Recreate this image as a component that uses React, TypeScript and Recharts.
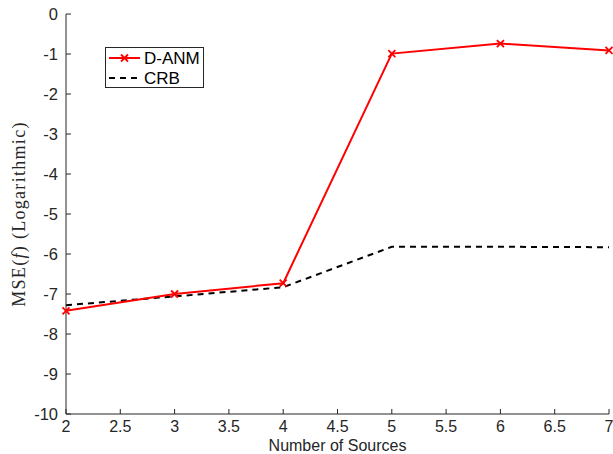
import { LineChart, Line, XAxis, YAxis } from 'recharts'

const sources = [2, 3, 4, 5, 6, 7]
const danm = [-7.42, -7.0, -6.73, -0.99, -0.74, -0.91]
const crb = [-7.28, -7.06, -6.83, -5.82, -5.82, -5.83]
const xTicks = [2, 2.5, 3, 3.5, 4, 4.5, 5, 5.5, 6, 6.5, 7]
const yTicks = [0, -1, -2, -3, -4, -5, -6, -7, -8, -9, -10]

const data = sources.map((s, i) => ({ sources: s, danm: danm[i], crb: crb[i] }))

const axisColor = '#262626'
const font = 'Liberation Sans, Arial, sans-serif'

const Cross = (props: any) => {
  const { cx, cy } = props
  if (cx == null || cy == null) return null
  const r = 3.5
  return (
    <g stroke="#ff0000" strokeWidth={1.8}>
      <line x1={cx - r} y1={cy - r} x2={cx + r} y2={cy + r} />
      <line x1={cx - r} y1={cy + r} x2={cx + r} y2={cy - r} />
    </g>
  )
}

const LegendBox = () => (
  <svg width={100} height={42} style={{ display: 'block' }}>
    <rect x={0.5} y={0.5} width={98} height={40} fill="#fff" stroke={axisColor} />
    <line x1={4} y1={11} x2={35} y2={11} stroke="#ff0000" strokeWidth={2} />
    <Cross cx={19.5} cy={11} />
    <text x={39} y={17} fontSize={17} fill="#000" fontFamily={font}>D-ANM</text>
    <line x1={4} y1={31} x2={35} y2={31} stroke="#000" strokeWidth={2} strokeDasharray="6 5" />
    <text x={39} y={37} fontSize={17} fill="#000" fontFamily={font}>CRB</text>
  </svg>
)

export default function App() {
  return (
    <div style={{ position: 'absolute', left: 0, top: 0, width: 613, height: 454, background: '#fff' }}>
      <LineChart
        width={613}
        height={454}
        data={data}
        margin={{ top: 14, right: 4, bottom: 0, left: 0 }}
      >
        <XAxis
          dataKey="sources"
          type="number"
          domain={[2, 7]}
          ticks={xTicks}
          height={40}
          stroke={axisColor}
          tickSize={-5}
          tickMargin={12}
          tick={{ fill: axisColor, fontSize: 16, fontFamily: font }}
          label={(p: any) => {
            const vb = p.viewBox
            return (
              <text
                x={vb.x + vb.width / 2}
                y={451}
                textAnchor="middle"
                fontFamily={font}
                fontSize={16}
                fill={axisColor}
              >
                Number of Sources
              </text>
            )
          }}
        />
        <YAxis
          type="number"
          domain={[-10, 0]}
          ticks={yTicks}
          width={66}
          stroke={axisColor}
          tickSize={-5}
          tickMargin={13}
          interval={0}
          tick={{ fill: axisColor, fontSize: 16.5, fontFamily: font }}
          label={(p: any) => {
            const vb = p.viewBox
            const cx = 19
            const cy = vb.y + vb.height / 2
            return (
              <text
                x={cx}
                y={cy}
                transform={`rotate(-90 ${cx} ${cy})`}
                textAnchor="middle"
                dominantBaseline="central"
                fontFamily="Liberation Serif, Times New Roman, serif"
                fontSize={18}
                letterSpacing={1.3}
                fill={axisColor}
              >
                MSE(<tspan fontStyle="italic">f</tspan>) (Logarithmic)
              </text>
            )
          }}
        />
        <Line
          type="linear"
          dataKey="crb"
          stroke="#000"
          strokeWidth={2}
          strokeDasharray="6 5"
          dot={false}
          isAnimationActive={false}
        />
        <Line
          type="linear"
          dataKey="danm"
          stroke="#ff0000"
          strokeWidth={2}
          dot={<Cross />}
          isAnimationActive={false}
        />
      </LineChart>
      <div style={{ position: 'absolute', left: 105, top: 47 }}>
        <LegendBox />
      </div>
    </div>
  )
}
